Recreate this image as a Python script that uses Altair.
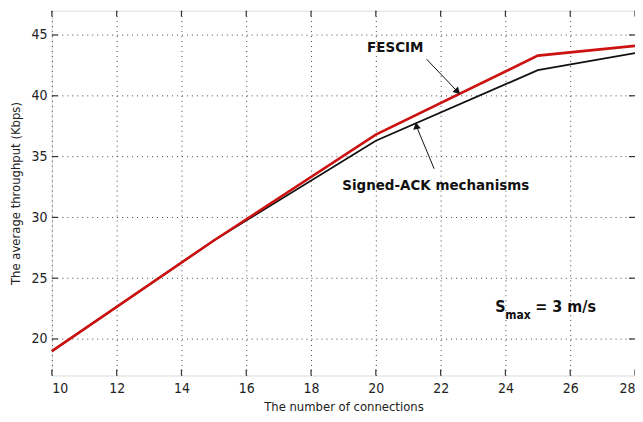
import altair as alt
import pandas as pd

connections = [10, 15, 20, 25, 28]
fescim = [19.0, 28.1, 36.8, 43.3, 44.1]
signed_ack = [19.0, 28.1, 36.3, 42.1, 43.5]
x_ticks = [10, 12, 14, 16, 18, 20, 22, 24, 26, 28]
y_ticks = [20, 25, 30, 35, 40, 45]

FONT = "DejaVu Sans Condensed, Liberation Sans, Arial, sans-serif"
W, H = 585, 366

df = pd.DataFrame({
    "x": connections * 2,
    "y": signed_ack + fescim,
    "series": ["Signed-ACK mechanisms"] * len(connections) + ["FESCIM"] * len(connections),
})

xs = alt.Scale(domain=[10, 28], nice=False, zero=False)
ys = alt.Scale(domain=[17, 47], nice=False, zero=False)

xax = alt.Axis(values=x_ticks, grid=True, gridDash=[1, 4], gridColor="#444", gridWidth=1,
               ticks=False, domain=False, labelFont=FONT, labelFontSize=14, labelColor="#222",
               labelPadding=6, title="The number of connections", titleFont=FONT,
               titleFontSize=13, titleFontWeight="normal", titleColor="#222", titlePadding=5)
yax = alt.Axis(values=y_ticks, grid=True, gridDash=[1, 4], gridColor="#444", gridWidth=1,
               ticks=False, domain=False, labelFont=FONT, labelFontSize=14, labelColor="#222",
               labelPadding=5, title="The average throughput (Kbps)", titleFont=FONT,
               titleFontSize=13, titleFontWeight="normal", titleColor="#222", titlePadding=8)

black = alt.Chart(df[df.series == "Signed-ACK mechanisms"]).mark_line(color="#111", strokeWidth=1.8).encode(
    x=alt.X("x:Q", scale=xs, axis=xax), y=alt.Y("y:Q", scale=ys, axis=yax))
red = alt.Chart(df[df.series == "FESCIM"]).mark_line(color="#cc1111", strokeWidth=2.6).encode(
    x=alt.X("x:Q", scale=xs), y=alt.Y("y:Q", scale=ys))

xt = pd.DataFrame({"t": x_ticks})
yt = pd.DataFrame({"t": y_ticks})
tick_b = alt.Chart(xt).mark_rule(color="#333", strokeWidth=1.2).encode(
    x=alt.X("t:Q", scale=xs), y=alt.value(H), y2=alt.value(H - 6))
tick_t = alt.Chart(xt).mark_rule(color="#333", strokeWidth=1.2).encode(
    x=alt.X("t:Q", scale=xs), y=alt.value(0), y2=alt.value(6))
tick_l = alt.Chart(yt).mark_rule(color="#333", strokeWidth=1.2).encode(
    y=alt.Y("t:Q", scale=ys), x=alt.value(0), x2=alt.value(6))
tick_r = alt.Chart(yt).mark_rule(color="#333", strokeWidth=1.2).encode(
    y=alt.Y("t:Q", scale=ys), x=alt.value(W), x2=alt.value(W - 6))

# annotation arrows
arrows = pd.DataFrame({
    "x": [21.57, 21.80], "y": [43.0, 34.0],
    "x2": [22.5, 21.26], "y2": [40.4, 37.45],
})
arrow_lines = alt.Chart(arrows).mark_rule(color="#111", strokeWidth=1).encode(
    x=alt.X("x:Q", scale=xs), y=alt.Y("y:Q", scale=ys), x2="x2:Q", y2="y2:Q")
heads = pd.DataFrame({"x": [22.5, 21.26], "y": [40.4, 37.45], "ang": [135, 350]})
arrow_heads = alt.Chart(heads).mark_point(shape="triangle", filled=True, color="#111", size=60, opacity=1).encode(
    x=alt.X("x:Q", scale=xs), y=alt.Y("y:Q", scale=ys), angle=alt.Angle("ang:Q", scale=None))

labels = pd.DataFrame({"x": [20.6, 21.85], "y": [44.0, 32.7], "text": ["FESCIM", "Signed-ACK mechanisms"]})
label_text = alt.Chart(labels).mark_text(font=FONT, fontSize=15, fontWeight="bold", color="#111").encode(
    x=alt.X("x:Q", scale=xs), y=alt.Y("y:Q", scale=ys), text="text:N")

smax = pd.DataFrame({"x": [23.69], "y": [22.6]})
s_txt = alt.Chart(smax).mark_text(font=FONT, fontSize=16, fontWeight="bold", color="#111",
                                   align="left", baseline="middle", text="S").encode(
    x=alt.X("x:Q", scale=xs), y=alt.Y("y:Q", scale=ys))
sub_txt = alt.Chart(smax).mark_text(font=FONT, fontSize=12, fontWeight="bold", color="#111",
                                     align="left", baseline="middle", text="max", dx=10, dy=8).encode(
    x=alt.X("x:Q", scale=xs), y=alt.Y("y:Q", scale=ys))
eq_txt = alt.Chart(smax).mark_text(font=FONT, fontSize=16, fontWeight="bold", color="#111",
                                    align="left", baseline="middle", text="= 3 m/s", dx=40).encode(
    x=alt.X("x:Q", scale=xs), y=alt.Y("y:Q", scale=ys))

chart = alt.layer(
    black, red, tick_b, tick_t, tick_l, tick_r, arrow_lines, arrow_heads, label_text, s_txt, sub_txt, eq_txt
).properties(
    width=W, height=H,
    autosize=alt.AutoSizeParams(type="none"),
    padding={"left": 44, "top": 2, "right": 0, "bottom": 40},
).configure_view(stroke="#333", strokeWidth=1.5).configure(background="white")

chart.save("out.html", embed_options={"renderer": "svg", "actions": False})
